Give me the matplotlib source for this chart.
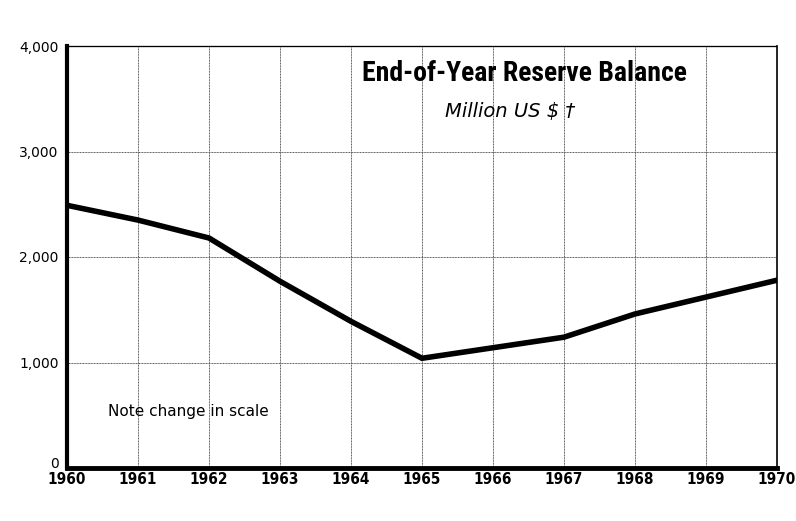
import matplotlib.pyplot as plt
from matplotlib import font_manager

years = [1960, 1961, 1962, 1963, 1964, 1965, 1966, 1967, 1968, 1969, 1970]
balance = [2490, 2350, 2180, 1770, 1390, 1040, 1140, 1240, 1460, 1620, 1780]
yticks = [0, 1000, 2000, 3000, 4000]
ytick_labels = ["0", "1,000", "2,000", "3,000", "4,000"]

# pick a narrow face for the title if one is around
names = {f.name for f in font_manager.fontManager.ttflist}
title_font = "DejaVu Sans"
for cand in ["Liberation Sans Narrow", "Roboto Condensed", "Open Sans Condensed"]:
    if cand in names:
        title_font = cand
        break

fig = plt.figure(figsize=(7.96, 5.21), dpi=100)
ax = fig.add_axes([67 / 796, 1 - 468 / 521, 710 / 796, 422 / 521])

ax.plot(years, balance, color="black", lw=4, solid_joinstyle="miter", zorder=3)

ax.set_xlim(1960, 1970)
ax.set_ylim(0, 4000)
ax.set_xticks(years)
ax.set_xticklabels([str(y) for y in years], fontsize=11, fontweight="bold",
                   fontstretch="condensed")
ax.set_yticks(yticks)
ax.set_yticklabels(ytick_labels, fontsize=10)
ax.tick_params(axis="x", length=0, pad=3)
ax.tick_params(axis="y", length=0, pad=6)
# the zero sits a little above the bottom line, as in the print
ax.get_yticklabels()[0].set_verticalalignment("baseline")
ax.grid(True, color="#555555", lw=0.7, ls=(0, (1, 0.6)))

ax.spines["left"].set_linewidth(3)
ax.spines["bottom"].set_linewidth(3.5)
ax.spines["top"].set_linewidth(0.9)
ax.spines["top"].set_linestyle((0, (1, 0.6)))
ax.spines["right"].set_linewidth(1.2)
for s in ax.spines.values():
    s.set_zorder(4)

ax.text(1966.44, 3744, "End-of-Year Reserve Balance", family=title_font,
        fontstretch="condensed", fontsize=20, fontweight="bold",
        ha="center", va="center")
ax.text(1966.24, 3380, "Million US $ \u2020", fontsize=14, style="italic",
        ha="center", va="center")
ax.text(1960.58, 540, "Note change in scale", fontsize=11, ha="left", va="center")

fig.savefig("out.png", dpi=100)
